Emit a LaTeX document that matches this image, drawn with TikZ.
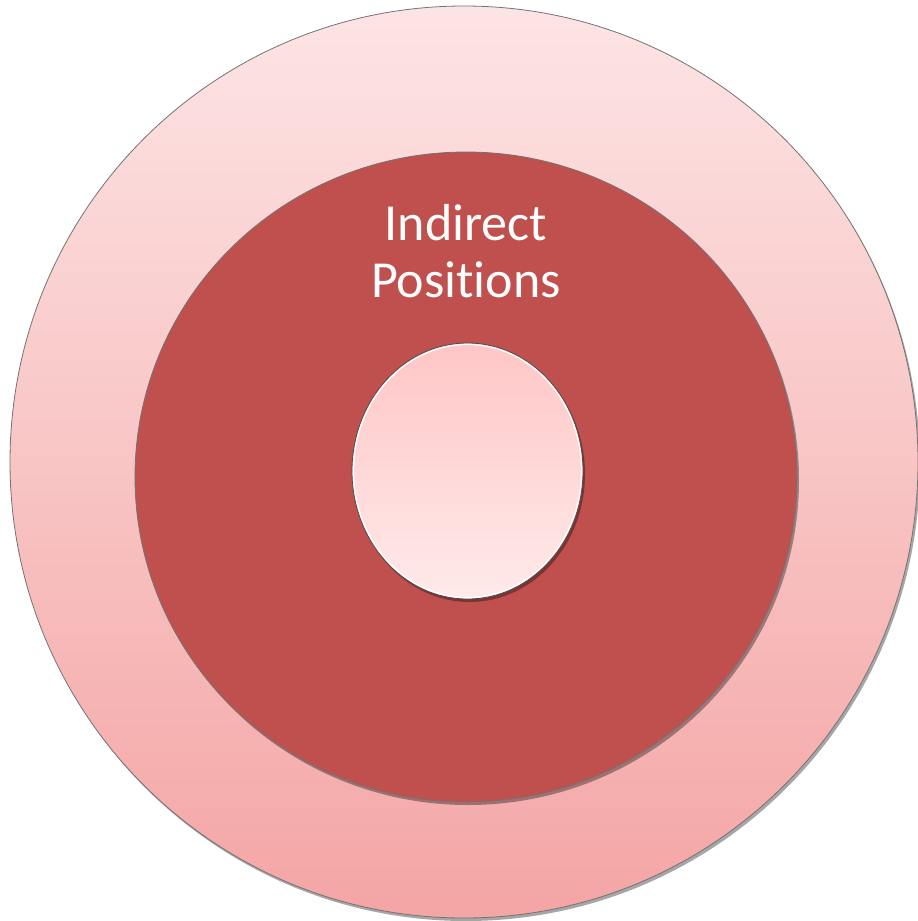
\documentclass[tikz,border=0pt]{standalone}
\usepackage{fontspec}
\setmainfont[Ligatures=NoCommon]{Carlito}
\usetikzlibrary{shadows,shapes.geometric}
\definecolor{outertop}{HTML}{FDE4E4}
\definecolor{outerbot}{HTML}{F4A5A5}
\definecolor{midred}{HTML}{C0504D}
\definecolor{innertop}{HTML}{FFC6C6}
\definecolor{innerbot}{HTML}{FFEAEA}
\tikzset{
  ring/.style={draw=black!55, line width=0.8pt,
    drop shadow={shadow xshift=2pt, shadow yshift=-3pt, opacity=0.35, fill=black}},
  label/.style={text=white, font=\fontsize{52}{57}\selectfont, align=center}
}
\begin{document}
\begin{tikzpicture}[x=1pt,y=-1pt]
\useasboundingbox (0,0) rectangle (918,921);
\path[ring, top color=outertop, bottom color=outerbot] (464,462) ellipse [x radius=454, y radius=456];
\path[ring, fill=midred] (466,477) ellipse [x radius=331, y radius=325];
\path[ring, draw=black!70, top color=innertop, bottom color=innerbot] (467.5,471) ellipse [x radius=115.5, y radius=128];
\draw[white, line width=1.2pt] (467.5,471) ellipse [x radius=114, y radius=126.5];
\node[label] (txt) at (466,251) {Indirect\\Posit\kern0pt ions};
\end{tikzpicture}
\end{document}
